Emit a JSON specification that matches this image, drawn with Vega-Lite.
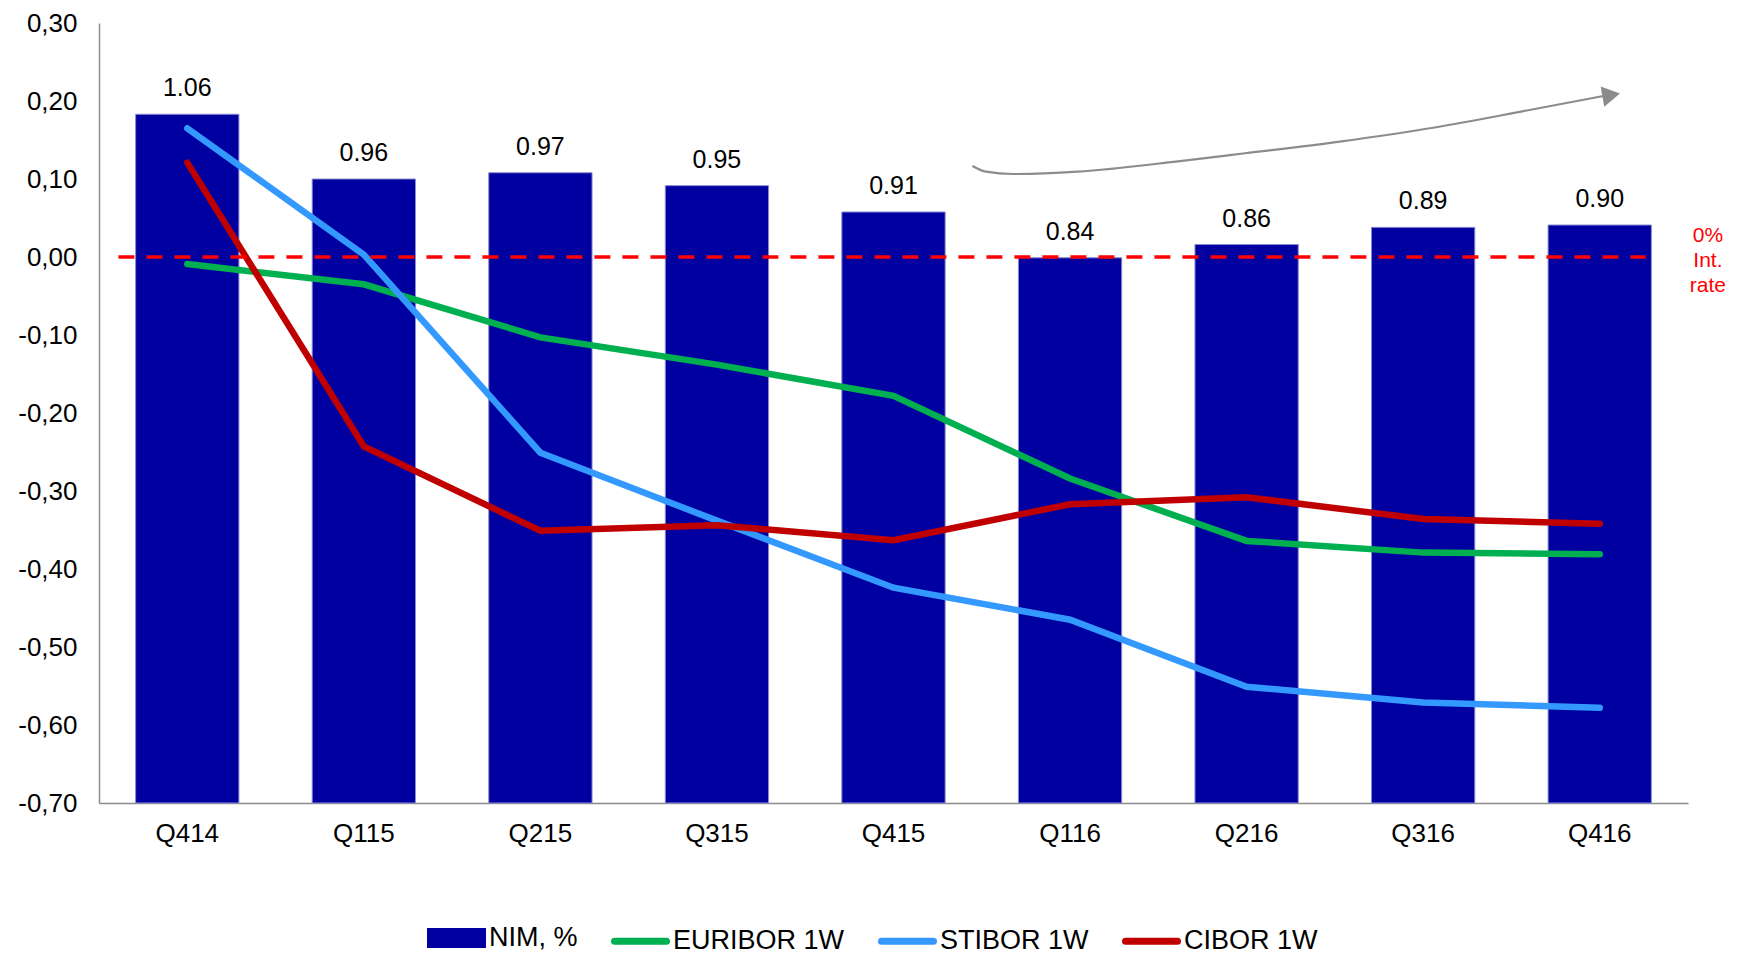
{
  "$schema": "https://vega.github.io/schema/vega-lite/v6.json",
  "width": 1589,
  "height": 780,
  "autosize": {"type": "none"},
  "padding": {"left": 99, "top": 23, "right": 57, "bottom": 151},
  "background": "white",
  "config": {
    "view": {"stroke": null},
    "font": "Liberation Sans",
    "axis": {"grid": false, "ticks": false, "domainColor": "#8C8C8C", "domainWidth": 1.5, "labelColor": "#000000", "labelFontSize": 26, "labelFont": "Liberation Sans", "title": null},
    "legend": {
      "orient": "none", "legendX": 328, "legendY": 885.5, "padding": 0, "direction": "horizontal", "title": null,
      "symbolType": "stroke", "symbolSize": 2704, "symbolStrokeWidth": 7,
      "labelFontSize": 27, "labelFont": "Liberation Sans", "labelColor": "#000000", "labelLimit": 400,
      "columnPadding": 22, "labelOffset": 3
    }
  },
  "datasets": {
    "bars": [
      {"quarter": "Q414", "top": 0.183, "label": "1.06", "series": "NIM, %"},
      {"quarter": "Q115", "top": 0.100, "label": "0.96", "series": "NIM, %"},
      {"quarter": "Q215", "top": 0.108, "label": "0.97", "series": "NIM, %"},
      {"quarter": "Q315", "top": 0.0915, "label": "0.95", "series": "NIM, %"},
      {"quarter": "Q415", "top": 0.0577, "label": "0.91", "series": "NIM, %"},
      {"quarter": "Q116", "top": -0.001, "label": "0.84", "series": "NIM, %"},
      {"quarter": "Q216", "top": 0.016, "label": "0.86", "series": "NIM, %"},
      {"quarter": "Q316", "top": 0.038, "label": "0.89", "series": "NIM, %"},
      {"quarter": "Q416", "top": 0.041, "label": "0.90", "series": "NIM, %"}
    ],
    "rates": [
      {"quarter": "Q414", "series": "EURIBOR 1W", "value": -0.009},
      {"quarter": "Q115", "series": "EURIBOR 1W", "value": -0.035},
      {"quarter": "Q215", "series": "EURIBOR 1W", "value": -0.103},
      {"quarter": "Q315", "series": "EURIBOR 1W", "value": -0.138},
      {"quarter": "Q415", "series": "EURIBOR 1W", "value": -0.178},
      {"quarter": "Q116", "series": "EURIBOR 1W", "value": -0.284},
      {"quarter": "Q216", "series": "EURIBOR 1W", "value": -0.364},
      {"quarter": "Q316", "series": "EURIBOR 1W", "value": -0.379},
      {"quarter": "Q416", "series": "EURIBOR 1W", "value": -0.381},
      {"quarter": "Q414", "series": "STIBOR 1W", "value": 0.165},
      {"quarter": "Q115", "series": "STIBOR 1W", "value": 0.003},
      {"quarter": "Q215", "series": "STIBOR 1W", "value": -0.251},
      {"quarter": "Q315", "series": "STIBOR 1W", "value": -0.338},
      {"quarter": "Q415", "series": "STIBOR 1W", "value": -0.424},
      {"quarter": "Q116", "series": "STIBOR 1W", "value": -0.465},
      {"quarter": "Q216", "series": "STIBOR 1W", "value": -0.551},
      {"quarter": "Q316", "series": "STIBOR 1W", "value": -0.571},
      {"quarter": "Q416", "series": "STIBOR 1W", "value": -0.578},
      {"quarter": "Q414", "series": "CIBOR 1W", "value": 0.121},
      {"quarter": "Q115", "series": "CIBOR 1W", "value": -0.243},
      {"quarter": "Q215", "series": "CIBOR 1W", "value": -0.351},
      {"quarter": "Q315", "series": "CIBOR 1W", "value": -0.344},
      {"quarter": "Q415", "series": "CIBOR 1W", "value": -0.363},
      {"quarter": "Q116", "series": "CIBOR 1W", "value": -0.317},
      {"quarter": "Q216", "series": "CIBOR 1W", "value": -0.308},
      {"quarter": "Q316", "series": "CIBOR 1W", "value": -0.336},
      {"quarter": "Q416", "series": "CIBOR 1W", "value": -0.342}
    ],
    "arrow": [
      {"o": 1, "ax": 4.947, "ay": 0.1167},
      {"o": 2, "ax": 5.023, "ay": 0.1094},
      {"o": 3, "ax": 5.175, "ay": 0.1064},
      {"o": 4, "ax": 5.543, "ay": 0.1094},
      {"o": 5, "ax": 6.123, "ay": 0.123},
      {"o": 6, "ax": 6.49, "ay": 0.133},
      {"o": 7, "ax": 7.028, "ay": 0.148},
      {"o": 8, "ax": 7.565, "ay": 0.166},
      {"o": 9, "ax": 8.102, "ay": 0.1885},
      {"o": 10, "ax": 8.521, "ay": 0.2064}
    ],
    "head": [{"ax": 8.565, "ay": 0.2076}],
    "zero": [{"x0": 0.11, "x1": 8.76, "y": 0}],
    "note": [{"ax": 9.113, "ay": 0.027, "text": "0%\nInt.\nrate"}]
  },
  "layer": [
    {
      "layer": [
        {
          "data": {"name": "bars"},
          "mark": {"type": "bar", "stroke": "#8A8AD0", "strokeWidth": 1},
          "encoding": {
            "x": {"field": "quarter", "type": "nominal", "sort": null,
                  "scale": {"paddingInner": 0.415, "paddingOuter": 0.2075},
                  "axis": {"labelAngle": 0, "labelPadding": 17}},
            "y": {"field": "top", "type": "quantitative",
                  "scale": {"domain": [-0.7, 0.3], "nice": false, "zero": false},
                  "axis": {"values": [-0.7, -0.6, -0.5, -0.4, -0.3, -0.2, -0.1, 0, 0.1, 0.2, 0.3], "labelPadding": 22,
                           "labelExpr": "replace(replace(format(datum.value, '.2f'), '.', ','), '\u2212', '-')"}},
            "y2": {"datum": -0.7},
            "color": {"field": "series", "type": "nominal",
                      "scale": {"domain": ["NIM, %", "EURIBOR 1W", "STIBOR 1W", "CIBOR 1W"], "range": ["#0000A0", "#00B050", "#3399FF", "#C00000"]},
                      "legend": {
                        "encode": {"symbols": {"update": {
                          "shape": {"signal": "datum.value === 'NIM, %' ? 'M-1,-0.25H1V0.25H-1Z' : 'stroke'"},
                          "fill": {"signal": "datum.value === 'NIM, %' ? scale('color', datum.value) : 'transparent'"},
                          "stroke": {"signal": "datum.value === 'NIM, %' ? 'transparent' : scale('color', datum.value)"},
                          "strokeCap": {"value": "round"}
                        }}}
                      }}
          }
        },
        {
          "data": {"name": "bars"},
          "mark": {"type": "text", "fontSize": 25, "baseline": "middle", "dy": -26, "color": "#000000"},
          "encoding": {
            "x": {"field": "quarter", "type": "nominal", "sort": null},
            "y": {"field": "top", "type": "quantitative"},
            "text": {"field": "label"}
          }
        },
        {
          "data": {"name": "rates"},
          "mark": {"type": "line", "strokeWidth": 6.5, "strokeCap": "round", "strokeJoin": "miter"},
          "encoding": {
            "x": {"field": "quarter", "type": "nominal", "sort": null},
            "y": {"field": "value", "type": "quantitative"},
            "color": {"field": "series", "type": "nominal",
                      "legend": {
                        "encode": {"symbols": {"update": {
                          "shape": {"signal": "datum.value === 'NIM, %' ? 'M-1,-0.25H1V0.25H-1Z' : 'stroke'"},
                          "fill": {"signal": "datum.value === 'NIM, %' ? scale('color', datum.value) : 'transparent'"},
                          "stroke": {"signal": "datum.value === 'NIM, %' ? 'transparent' : scale('color', datum.value)"},
                          "strokeCap": {"value": "round"}
                        }}}
                      }}
          }
        }
      ]
    },
    {
      "layer": [
        {
          "data": {"name": "zero"},
          "mark": {"type": "rule", "color": "#FF0000", "strokeWidth": 3.5, "strokeDash": [16, 12]},
          "encoding": {
            "x": {"field": "x0", "type": "quantitative", "scale": {"domain": [0, 9], "nice": false, "zero": false}, "axis": null},
            "x2": {"field": "x1"},
            "y": {"field": "y", "type": "quantitative", "scale": {"domain": [-0.7, 0.3], "nice": false, "zero": false}, "axis": null}
          }
        },
        {
          "data": {"name": "arrow"},
          "mark": {"type": "line", "color": "#8C8C8C", "strokeWidth": 2.2, "interpolate": "monotone"},
          "encoding": {
            "x": {"field": "ax", "type": "quantitative"},
            "y": {"field": "ay", "type": "quantitative"},
            "order": {"field": "o", "type": "quantitative"}
          }
        },
        {
          "data": {"name": "head"},
          "mark": {"type": "point", "shape": "triangle-right", "filled": true, "color": "#8C8C8C", "size": 420, "angle": 350, "opacity": 1},
          "encoding": {
            "x": {"field": "ax", "type": "quantitative"},
            "y": {"field": "ay", "type": "quantitative"}
          }
        },
        {
          "data": {"name": "note"},
          "mark": {"type": "text", "color": "#FF0000", "fontSize": 21, "lineBreak": "\n", "lineHeight": 25, "align": "center", "baseline": "middle"},
          "encoding": {
            "x": {"field": "ax", "type": "quantitative"},
            "y": {"field": "ay", "type": "quantitative"},
            "text": {"field": "text"}
          }
        }
      ]
    }
  ],
  "resolve": {"scale": {"x": "independent", "y": "independent"}, "axis": {"x": "independent", "y": "independent"}}
}
